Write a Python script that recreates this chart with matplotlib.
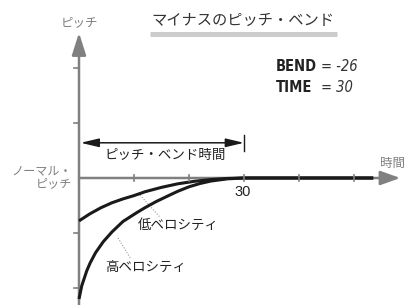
import matplotlib
matplotlib.use('Agg')
import matplotlib.pyplot as plt

plt.rcParams['font.family'] = ['Noto Sans CJK JP', 'DejaVu Sans']

# データ(目盛り単位:横10=30の1/3、縦10=1目盛り)
low_x = [0, 2, 4, 6, 8, 10, 12, 15, 18, 21, 24, 27, 30, 53.5]
low_y = [-7.8, -6.5, -5.4, -4.5, -3.8, -3.2, -2.5, -1.7, -1.05, -0.6, -0.28, -0.08, 0, 0]
high_x = [0, 0.5, 1.4, 2, 3, 4.4, 6, 8, 10.5, 12, 14, 16.5, 18, 20, 22, 24, 27, 30, 53.5]
high_y = [-22, -19.6, -16.9, -15.5, -13.6, -11.6, -9.8, -7.9, -6.3, -5.4, -4.3,
          -3.1, -2.4, -1.6, -1.0, -0.55, -0.15, 0, 0]
x_ticks = [10, 20, 30, 40, 50]
y_ticks = [20, 10, -10, -20]
bend_time = 30
title = 'マイナスのピッチ・ベンド'
bend_text = 'BEND'
bend_val = '= -26'
time_text = 'TIME'
time_val = '= 30'

GRAY = '#808080'
DARK = '#1a1a1a'

fig = plt.figure(figsize=(4.04, 3.05), dpi=100)
ax = fig.add_axes([0, 0, 1, 1])
ax.set_xlim(-79 / 5.5, (404 - 79) / 5.5)
ax.set_ylim(-(305 - 178) / 5.5, 178 / 5.5)
ax.axis('off')

# 軸(グレーの矢印)
ax.annotate('', xy=(58.4, 0), xytext=(0, 0),
            arrowprops=dict(arrowstyle='-|>,head_length=12,head_width=4.3',
                            mutation_scale=1, color=GRAY, lw=1.8,
                            shrinkA=0, shrinkB=0))
ax.annotate('', xy=(0, 26.4), xytext=(0, -24),
            arrowprops=dict(arrowstyle='-|>,head_length=13.5,head_width=4.3',
                            mutation_scale=1, color=GRAY, lw=1.8,
                            shrinkA=0, shrinkB=0))
for t in x_ticks:
    ax.plot([t, t], [-0.6, 0.6], color=GRAY, lw=1.2, zorder=4)
for t in y_ticks:
    ax.plot([-1.0, 0], [t, t], color=GRAY, lw=1.2)

# カーブ
ax.plot(low_x, low_y, color=DARK, lw=2.2, solid_capstyle='butt', zorder=3)
ax.plot(high_x, high_y, color=DARK, lw=2.2, solid_capstyle='butt', zorder=3)

# ピッチ・ベンド時間の両矢印
ax.annotate('', xy=(0.3, 6.4), xytext=(bend_time, 6.4),
            arrowprops=dict(arrowstyle='<|-|>,head_length=11,head_width=2.6',
                            mutation_scale=1, color=DARK, lw=1.1,
                            shrinkA=0, shrinkB=0))
ax.plot([bend_time, bend_time], [4.9, 7.9], color=DARK, lw=1.0)
ax.text(15.6, 4.2, 'ピッチ・ベンド時間', fontsize=9.7, color='#222222',
        ha='center', va='center')

# 引き出し線とラベル
ax.plot([11.1, 14.7], [-3.1, -7.1], color='#999999', lw=0.8, ls=(0, (1, 1.5)))
ax.plot([7.1, 9.3], [-10.9, -14.5], color='#999999', lw=0.8, ls=(0, (1, 1.5)))
ax.text(10.7, -8.5, '低ベロシティ', fontsize=9.7, color='#222222', va='center')
ax.text(4.7, -16.2, '高ベロシティ', fontsize=9.7, color='#222222', va='center')

ax.text(bend_time - 0.2, -2.5, str(bend_time), fontsize=10.5, color='#222222',
        ha='center', va='center', family='Liberation Sans')

# 軸ラベル
ax.text(0, 28.2, 'ピッチ', fontsize=9, color=GRAY, ha='center', va='center')
ax.text(54.7, 2.7, '時間', fontsize=9, color=GRAY, ha='left', va='center')
ax.text(-1.3, 0.2, 'ノーマル・\nピッチ', fontsize=8.7, color=GRAY,
        ha='right', va='center', linespacing=0.95)

# タイトル
ax.text(29.8, 28.6, title, fontsize=11, color='#333333', ha='center', va='center')
ax.plot([12.9, 46.9], [26.1, 26.1], color='#cccccc', lw=3.6, solid_capstyle='butt')

# BEND / TIME
for yy, lab, val in [(20.2, bend_text, bend_val), (16.5, time_text, time_val)]:
    ax.text(35.8, yy, lab, fontsize=10.5, fontweight='bold', color='#222222',
            va='center', family='DejaVu Sans', fontstretch='condensed')
    ax.text(44.0, yy, val, fontsize=10.5, style='italic', color='#333333',
            va='center', family='DejaVu Sans', fontstretch='condensed')

fig.savefig('out.png', dpi=100)
